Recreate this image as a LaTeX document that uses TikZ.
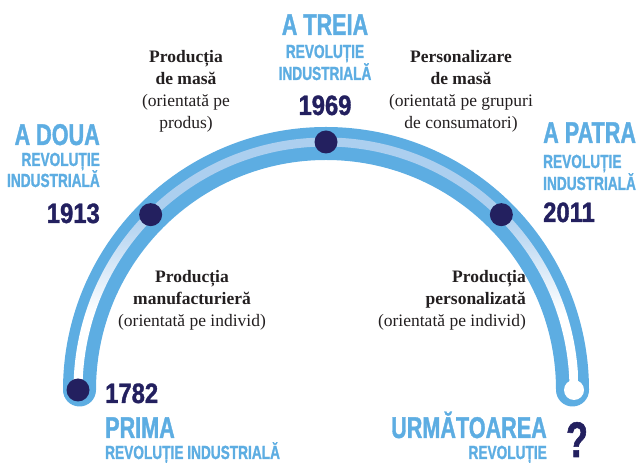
\documentclass[tikz,border=0pt]{standalone}
\usepackage{fontspec}
\setmainfont{Liberation Serif}
\newfontfamily\headfont[FakeStretch=0.72,FakeBold=1.2]{Liberation Sans}
\newfontfamily\yearfont[FakeStretch=0.85,FakeBold=1.2]{Liberation Sans}
\definecolor{revblue}{RGB}{93,173,226}
\definecolor{stripeblue}{RGB}{172,207,239}
\definecolor{navy}{RGB}{35,32,95}
\definecolor{inktext}{RGB}{35,31,32}
\pgfdeclareverticalshading{stripe}{100bp}{color(0bp)=(white); color(40bp)=(white); color(60bp)=(stripeblue); color(100bp)=(stripeblue)}
\tikzstyle{revdot}=[circle,fill=navy,minimum size=23pt,inner sep=0pt]
\tikzstyle{endhole}=[circle,fill=white,minimum size=20pt,inner sep=0pt]
\tikzstyle{bighead}=[inner sep=0pt,text=revblue,font=\headfont\bfseries\fontsize{30}{30}\selectfont]
\tikzstyle{smallhead}=[inner sep=0pt,text=revblue,font=\headfont\bfseries\fontsize{19}{19}\selectfont]
\tikzstyle{yearlabel}=[inner sep=0pt,text=navy,font=\yearfont\bfseries\fontsize{28}{28}\selectfont]
\tikzstyle{stage}=[inner sep=0pt,text=inktext,align=center,font=\fontsize{17.5}{22}\selectfont]

\begin{document}
\begin{tikzpicture}[x=1pt,y=1pt]
\useasboundingbox (0,0) rectangle (637,463);
\coordinate (c) at (326,73);

\draw[line width=33pt, revblue, line cap=round] (c) ++(180:246.5) arc[start angle=180, end angle=0, radius=246.5];
\shade[shading=stripe] (c) ++(180:252.5) arc[start angle=180, end angle=0, radius=252.5] -- ++(-9,0) arc[start angle=0, end angle=180, radius=243.5] -- cycle;

\node[revdot] (d1782) at ([shift={(180:248)}]c) {};
\node[revdot] (d1913) at ([shift={(135:248)}]c) {};
\node[revdot] (d1969) at ([shift={(90:248)}]c) {};
\node[revdot] (d2011) at ([shift={(45:248)}]c) {};
\node[endhole] (dnext) at ([shift={(0:248)}]c) {};

\node[bighead, anchor=base] (treia) at (325,428) {A TREIA};
\node[smallhead, anchor=base] (treia-rev) at (325,405) {REVOLUȚIE};
\node[smallhead, anchor=base] (treia-ind) at (325,383) {INDUSTRIALĂ};
\node[yearlabel, anchor=base] (y1969) at (325,348) {1969};

\node[bighead, anchor=base east] (doua) at (100,318) {A DOUA};
\node[smallhead, anchor=base east] (doua-rev) at (100,297) {REVOLUȚIE};
\node[smallhead, anchor=base east] (doua-ind) at (100,276) {INDUSTRIALĂ};
\node[yearlabel, anchor=base east] (y1913) at (100,240) {1913};

\node[bighead, anchor=base west] (patra) at (543,320) {A PATRA};
\node[smallhead, anchor=base west] (patra-rev) at (543,295) {REVOLUȚIE};
\node[smallhead, anchor=base west] (patra-ind) at (543,273) {INDUSTRIALĂ};
\node[yearlabel, anchor=base west] (y2011) at (543,241) {2011};

\node[yearlabel, anchor=base west] (y1782) at (105,60) {1782};
\node[bighead, anchor=base west] (prima) at (105,25) {PRIMA};
\node[smallhead, anchor=base west] (prima-rev) at (105,4) {REVOLUȚIE INDUSTRIALĂ};

\node[bighead, anchor=base east] (urm) at (547,25) {URMĂTOAREA};
\node[smallhead, anchor=base east] (urm-rev) at (547,4) {REVOLUȚIE};
\node[yearlabel, anchor=base, font=\headfont\bfseries\fontsize{50}{50}\selectfont] (qmark) at (577,6) {?};

\node[stage, anchor=north] (masa) at (186,413) {\textbf{Producția}\\\textbf{de masă}\\(orientată pe\\produs)};
\node[stage, anchor=north] (pers) at (461,413) {\textbf{Personalizare}\\\textbf{de masă}\\(orientată pe grupuri\\de consumatori)};
\node[stage, anchor=north] (manuf) at (192,193) {\textbf{Producția}\\\textbf{manufacturieră}\\(orientată pe individ)};
\node[stage, anchor=north east, align=right] (perso) at (526,193) {\textbf{Producția}\\\textbf{personalizată}\\(orientată pe individ)};

\end{tikzpicture}
\end{document}
